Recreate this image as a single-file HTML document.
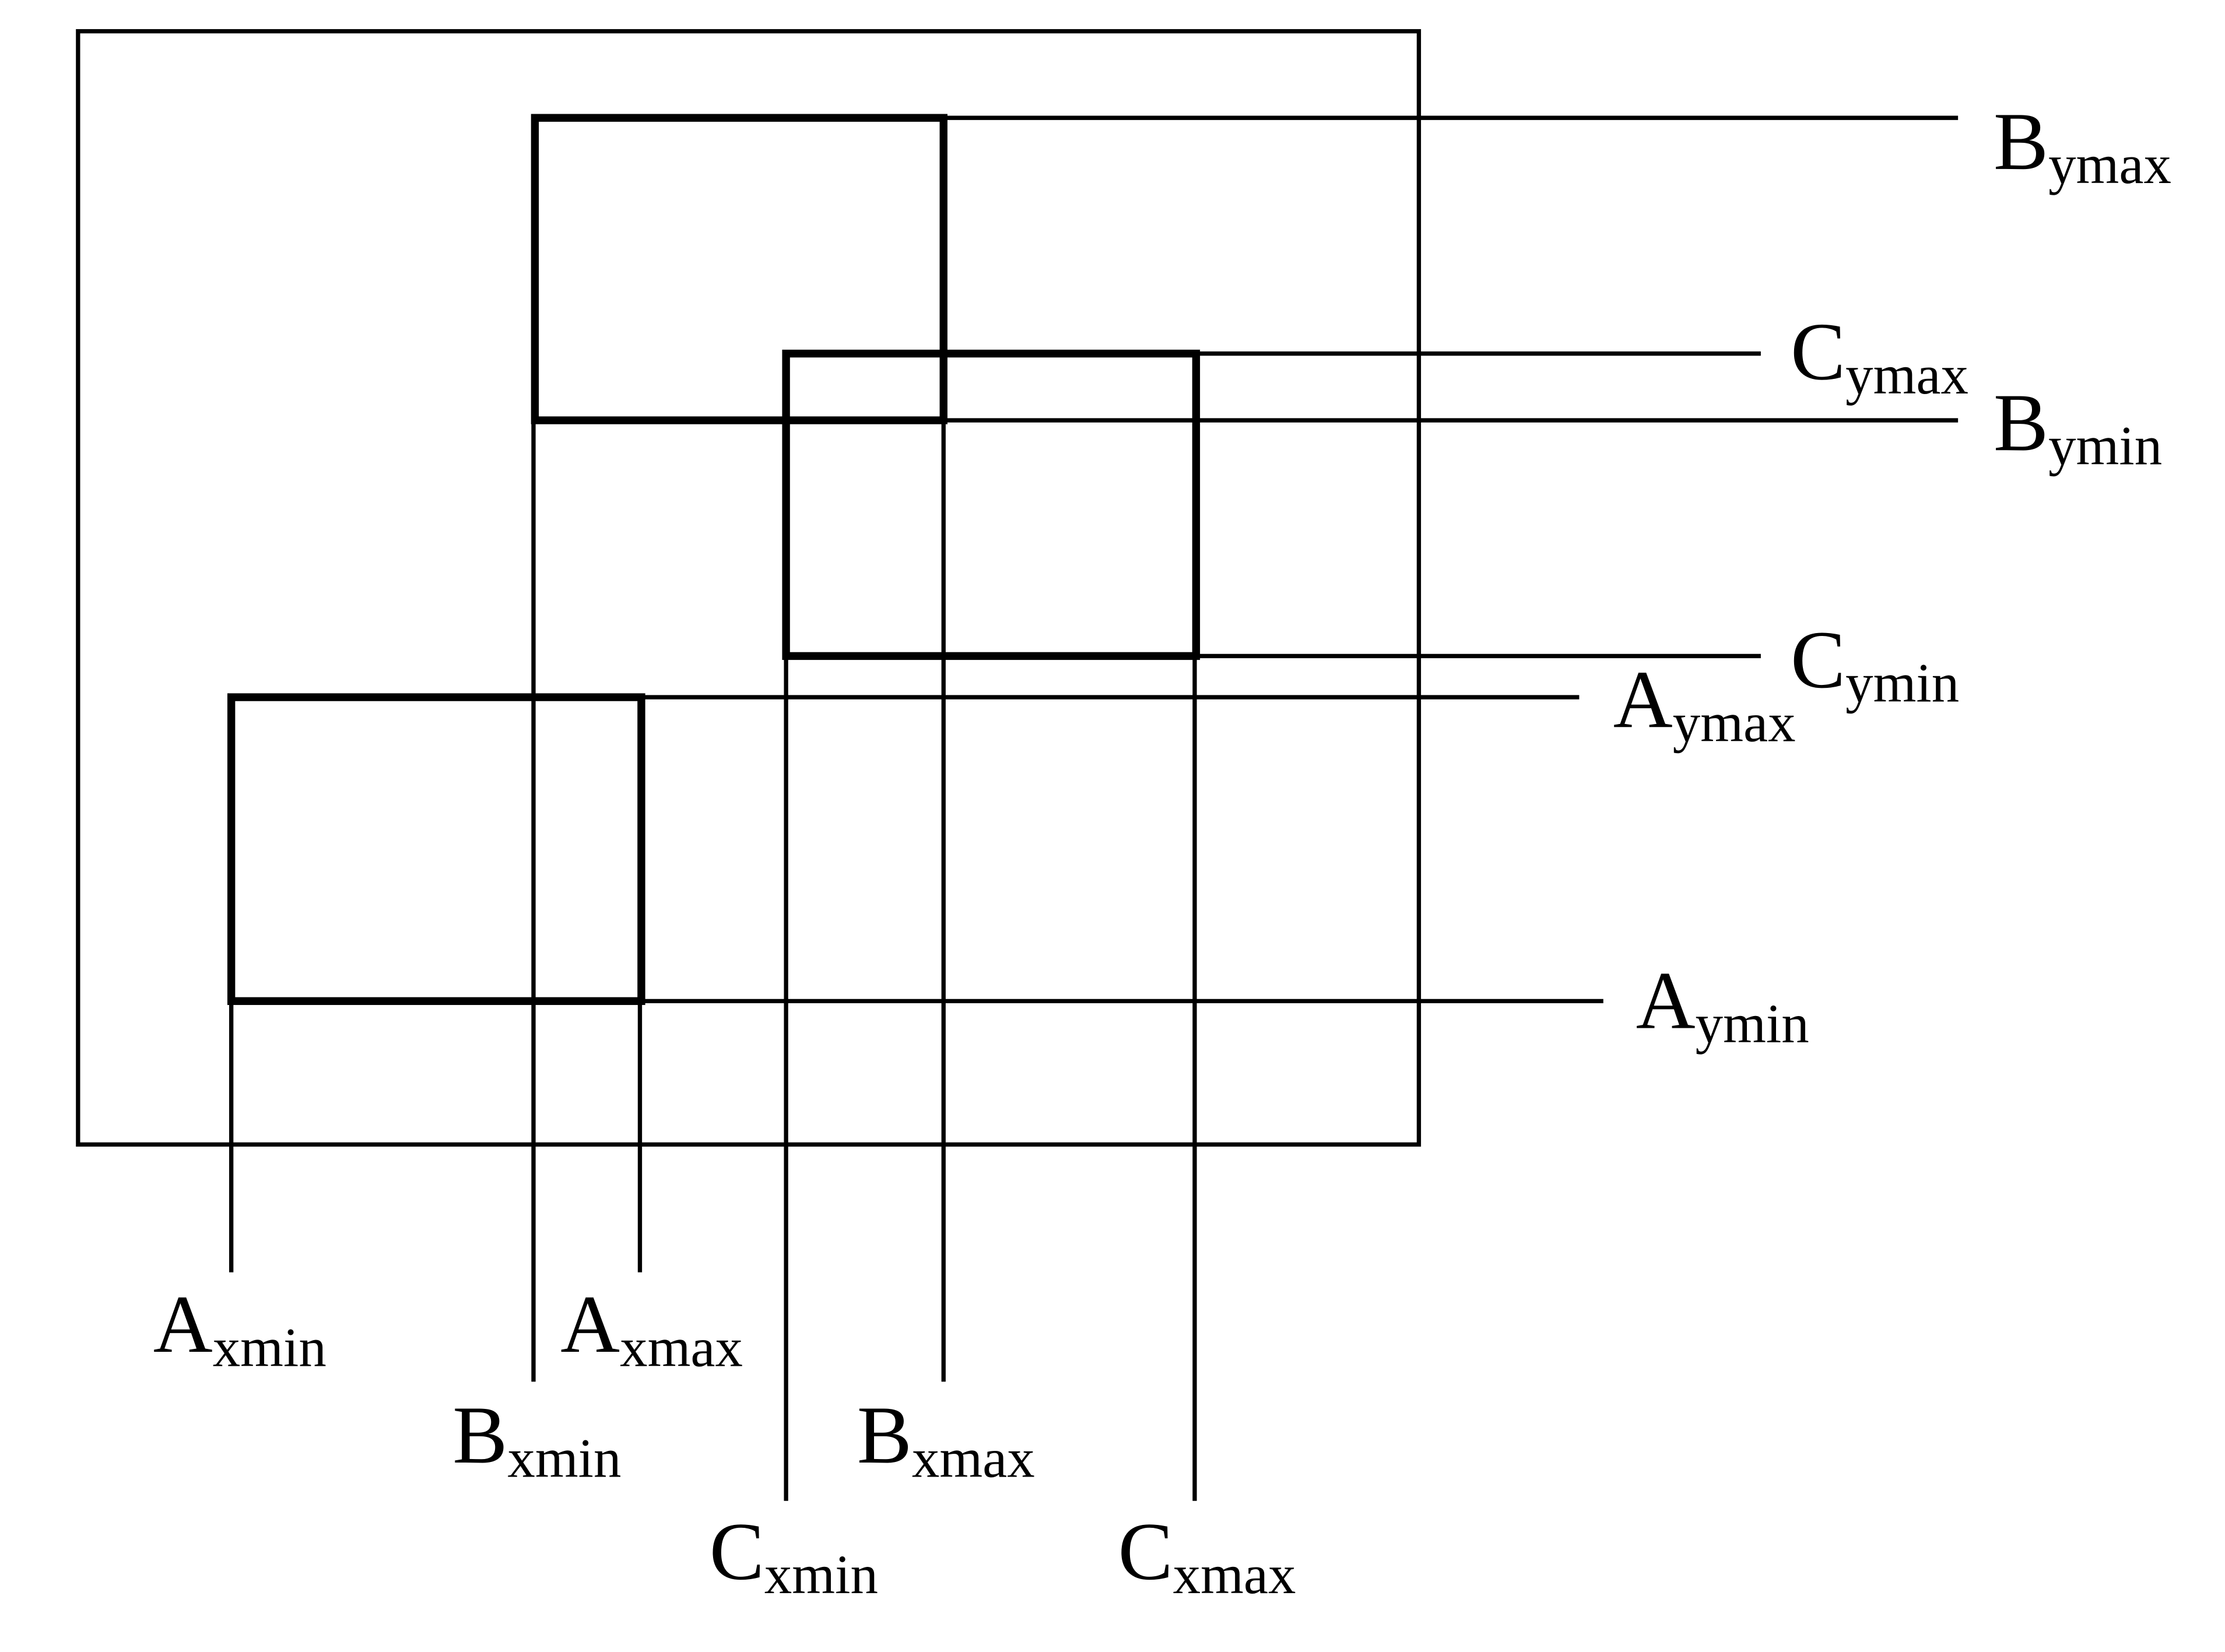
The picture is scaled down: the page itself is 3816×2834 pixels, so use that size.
<!DOCTYPE html>
<html><head><style>html,body{margin:0;padding:0;background:#fff}svg{display:block}</style></head>
<body>
<svg width="3816" height="2834" viewBox="0 0 1552 1152" preserveAspectRatio="none" xmlns="http://www.w3.org/2000/svg">
<g transform="scale(0.9897,0.9902)">
<g fill="none" stroke="#000" stroke-width="3">
<rect x="55" y="22" width="945" height="784"/>
<line x1="665" y1="83" x2="1380" y2="83"/>
<line x1="843" y1="249" x2="1241" y2="249"/>
<line x1="665" y1="296" x2="1380" y2="296"/>
<line x1="843" y1="462" x2="1241" y2="462"/>
<line x1="452" y1="491" x2="1113" y2="491"/>
<line x1="452" y1="705" x2="1130" y2="705"/>
<line x1="163" y1="705" x2="163" y2="896"/>
<line x1="376" y1="296" x2="376" y2="973"/>
<line x1="451" y1="705" x2="451" y2="896"/>
<line x1="554" y1="462" x2="554" y2="1057"/>
<line x1="665" y1="296" x2="665" y2="973"/>
<line x1="842" y1="462" x2="842" y2="1057"/>
</g>
<g fill="none" stroke="#000" stroke-width="5.5">
<rect x="377" y="83" width="288" height="213"/>
<rect x="554" y="249" width="289" height="213"/>
<rect x="163" y="491" width="289" height="214"/>
</g>
<g font-family="Liberation Serif, serif" font-size="58" fill="#000">
<text x="1405" y="119">B<tspan font-size="39" dy="10">ymax</tspan></text>
<text x="1262" y="267">C<tspan font-size="39" dy="10">ymax</tspan></text>
<text x="1405" y="317">B<tspan font-size="39" dy="10">ymin</tspan></text>
<text x="1262" y="484">C<tspan font-size="39" dy="10">ymin</tspan></text>
<text x="1137" y="512">A<tspan font-size="39" dy="10">ymax</tspan></text>
<text x="1153" y="724">A<tspan font-size="39" dy="10">ymin</tspan></text>
<text x="108" y="952">A<tspan font-size="39" dy="10">xmin</tspan></text>
<text x="395" y="952">A<tspan font-size="39" dy="10">xmax</tspan></text>
<text x="319" y="1030">B<tspan font-size="39" dy="10">xmin</tspan></text>
<text x="604" y="1030">B<tspan font-size="39" dy="10">xmax</tspan></text>
<text x="500" y="1112">C<tspan font-size="39" dy="10">xmin</tspan></text>
<text x="788" y="1112">C<tspan font-size="39" dy="10">xmax</tspan></text>
</g>
</g>
</svg>
</body></html>
